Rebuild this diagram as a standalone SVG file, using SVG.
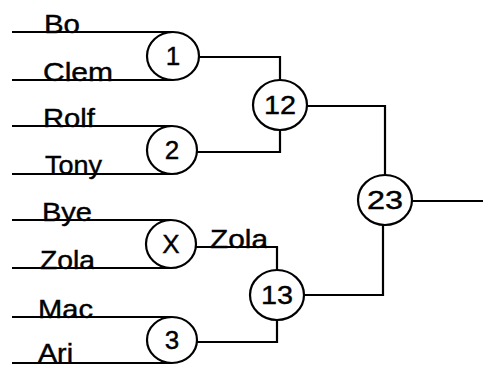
<svg xmlns="http://www.w3.org/2000/svg" width="483" height="368" viewBox="0 0 483 368">
<style>
.l{fill:none;stroke:#000;stroke-width:2.2;stroke-linejoin:miter}
.c{fill:#fff;stroke:#000;stroke-width:2.2}
text{font-family:"Liberation Sans",Arial,Helvetica,sans-serif;font-size:26px;fill:#000;stroke:#000;stroke-width:0.4}
.n{text-anchor:middle}
</style>
<rect width="483" height="368" fill="#fff"/>
<g id="connectors">
<path class="l" d="M12,32 H173"/>
<path class="l" d="M12,80 H173"/>
<path class="l" d="M12,126 H172"/>
<path class="l" d="M12,174 H172"/>
<path class="l" d="M12,220 H171"/>
<path class="l" d="M12,268 H171"/>
<path class="l" d="M12,317 H171"/>
<path class="l" d="M12,363 H171"/>
<path class="l" d="M198,57 H280 V80"/>
<path class="l" d="M197,152 H280 V130"/>
<path class="l" d="M307,106 H385 V175"/>
<path class="l" d="M196,247 H277 V270"/>
<path class="l" d="M277,320 V342 H197"/>
<path class="l" d="M303,295 H383 V225"/>
<path class="l" d="M412,201 H483"/>
</g>
<g id="bo"><text x="44" y="33" textLength="36" lengthAdjust="spacingAndGlyphs">Bo</text></g>
<g id="clem"><text x="43" y="81" textLength="70" lengthAdjust="spacingAndGlyphs">Clem</text></g>
<g id="rolf"><text x="43" y="127" textLength="52" lengthAdjust="spacingAndGlyphs">Rolf</text></g>
<g id="tony"><text x="45" y="174" textLength="57" lengthAdjust="spacingAndGlyphs">Tony</text></g>
<g id="bye"><text x="42" y="221" textLength="50" lengthAdjust="spacingAndGlyphs">Bye</text></g>
<g id="zola"><text x="40" y="269" textLength="55" lengthAdjust="spacingAndGlyphs">Zola</text></g>
<g id="mac"><text x="38" y="318" textLength="55" lengthAdjust="spacingAndGlyphs">Mac</text></g>
<g id="ari"><text x="38" y="362" font-size="25" textLength="35" lengthAdjust="spacingAndGlyphs">Ari</text></g>
<g id="zola-advance"><text x="210" y="248" textLength="58" lengthAdjust="spacingAndGlyphs">Zola</text></g>
<g id="m1"><ellipse class="c" cx="173" cy="56" rx="26" ry="24"/><text class="n" x="173" y="65">1</text></g>
<g id="m2"><ellipse class="c" cx="172" cy="150" rx="25" ry="24"/><text class="n" x="172" y="159">2</text></g>
<g id="mx"><ellipse class="c" cx="171" cy="244" rx="25" ry="24"/><text class="n" x="171" y="253">X</text></g>
<g id="m3"><ellipse class="c" cx="172" cy="340" rx="25" ry="23"/><text class="n" x="172" y="349">3</text></g>
<g id="m12"><ellipse class="c" cx="280" cy="105" rx="27" ry="25"/><text class="n" x="280" y="114" textLength="32" lengthAdjust="spacingAndGlyphs">12</text></g>
<g id="m13"><ellipse class="c" cx="277" cy="295" rx="27" ry="25"/><text class="n" x="277" y="304" textLength="32" lengthAdjust="spacingAndGlyphs">13</text></g>
<g id="m23"><ellipse class="c" cx="385" cy="200" rx="27" ry="25"/><text class="n" x="385" y="209" textLength="36" lengthAdjust="spacingAndGlyphs">23</text></g>
</svg>
